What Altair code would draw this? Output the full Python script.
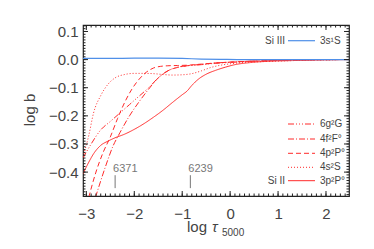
import altair as alt
import pandas as pd
import numpy as np

# ---- data ----
# Si III 3s1S (blue)
si3_x = [-3.07, -2.5, -2.0, -1.5, -1.0, -0.6, -0.2, 0.2, 1.0, 2.5]
si3_y = [0.004, 0.004, 0.005, 0.005, 0.004, 0.002, 0.001, 0.0, 0.0, 0.0]

# Si II levels (red)
p3_x = [-3.07, -2.95, -2.85, -2.7, -2.55, -2.4, -2.2, -2.0, -1.8, -1.6, -1.4, -1.2, -1.0, -0.9,
        -0.8, -0.65, -0.5, -0.3, -0.1, 0.1, 0.4, 0.8, 1.2, 1.6, 2.0, 2.5]
p3_y = [-0.406, -0.365, -0.335, -0.305, -0.29, -0.278, -0.265, -0.248, -0.228, -0.205, -0.18,
        -0.152, -0.125, -0.112, -0.092, -0.068, -0.052, -0.038, -0.027, -0.018, -0.011, -0.006,
        -0.004, -0.002, -0.001, 0.0]

s4_x = [-3.07, -2.95, -2.85, -2.7, -2.55, -2.4, -2.2, -2.0, -1.8, -1.6, -1.4, -1.2, -1.0, -0.8,
        -0.6, -0.4, -0.2, 0.0, 0.3, 0.7, 1.2, 1.7, 2.2]
s4_y = [-0.345, -0.27, -0.19, -0.128, -0.088, -0.065, -0.053, -0.049, -0.049, -0.05, -0.053,
        -0.055, -0.054, -0.05, -0.04, -0.028, -0.02, -0.015, -0.01, -0.007, -0.004, -0.002, -0.001]

p4_x = [-2.95, -2.8, -2.65, -2.5, -2.35, -2.2, -2.05, -1.9, -1.75, -1.6, -1.45, -1.3, -1.1, -0.9,
        -0.6, -0.3, 0.0, 0.4, 0.8, 1.3, 1.8, 2.3]
p4_y = [-0.49, -0.40, -0.33, -0.275, -0.21, -0.152, -0.105, -0.07, -0.045, -0.03, -0.024, -0.022,
        -0.021, -0.02, -0.016, -0.012, -0.009, -0.006, -0.004, -0.002, -0.001, 0.0]

f4_x = [-2.81, -2.6, -2.45, -2.3, -2.1, -1.9, -1.7, -1.5, -1.3, -1.1, -0.9, -0.6, -0.3, 0.0, 0.4,
        0.8, 1.3, 1.8]
f4_y = [-0.49, -0.38, -0.31, -0.26, -0.2, -0.15, -0.105, -0.065, -0.04, -0.028, -0.022, -0.017,
        -0.012, -0.009, -0.006, -0.004, -0.002, -0.001]

g6_x = [-3.07, -2.9, -2.7, -2.5, -2.3, -2.1, -1.9, -1.7, -1.5, -1.3, -1.1, -0.9, -0.6, -0.3, 0.0,
        0.4, 0.8, 1.3, 1.8]
g6_y = [-0.35, -0.3, -0.25, -0.22, -0.19, -0.16, -0.13, -0.1, -0.065, -0.04, -0.027, -0.022,
        -0.018, -0.013, -0.01, -0.006, -0.004, -0.002, -0.001]

levels = ["6g²G", "4f²F°", "4p²P°", "4s²S", "3p²P°"]
level_x = [g6_x, f4_x, p4_x, s4_x, p3_x]
level_y = [g6_y, f4_y, p4_y, s4_y, p3_y]
level_dash = [[6, 2, 1, 2, 1, 2, 1, 2], [6, 2, 1, 2], [5, 3], [1, 2], [1, 0]]

lines_lambda = ["6371", "6239"]
lines_x = [-2.40, -0.83]

x_ticks_major = [-3, -2, -1, 0, 1, 2]
y_ticks_major = [-0.4, -0.3, -0.2, -0.1, 0.0, 0.1]

# ---- layout ----
W, H = 266, 171
RED = "#ff2a2a"
BLUE = "#4f8fe8"
GRAY = "#444444"
FONT = "Liberation Sans"

xscale = alt.Scale(domain=[-3.07, 2.48], nice=False, zero=False)
yscale = alt.Scale(domain=[-0.485, 0.123], nice=False, zero=False)
xaxis = alt.Axis(values=x_ticks_major, format="d", title=None, labelPadding=10)
yaxis = alt.Axis(values=y_ticks_major, format=".1f", title=None, labelPadding=5)

X = lambda: alt.X("x:Q", scale=xscale, axis=xaxis)
Y = lambda: alt.Y("y:Q", scale=yscale, axis=yaxis)

one = pd.DataFrame({"a": [0]})
layers = []

# curves
for name, xs, ys, dash in zip(levels, level_x, level_y, level_dash):
    df = pd.DataFrame({"x": xs, "y": ys})
    layers.append(alt.Chart(df).mark_line(color=RED, strokeWidth=1, strokeDash=dash, clip=True,
                                          interpolate="monotone").encode(x=X(), y=Y()))
layers.append(alt.Chart(pd.DataFrame({"x": si3_x, "y": si3_y})).mark_line(
    color=BLUE, strokeWidth=1.2, clip=True, interpolate="monotone").encode(x=X(), y=Y()))

# minor/major ticks (inward, mirrored)
xmin = pd.DataFrame({"x": np.round(np.arange(-3.0, 2.45, 0.1), 2)})
xmaj = pd.DataFrame({"x": x_ticks_major})
ymin = pd.DataFrame({"y": np.round(np.arange(-0.48, 0.125, 0.01), 3)})
ymaj = pd.DataFrame({"y": y_ticks_major})
tc = "#222222"
for df, L in [(xmin, 2.5), (xmaj, 5)]:
    layers.append(alt.Chart(df).mark_rule(color=tc, strokeWidth=1).encode(
        x=X(), y=alt.value(H), y2=alt.value(H - L)))
    layers.append(alt.Chart(df).mark_rule(color=tc, strokeWidth=1).encode(
        x=X(), y=alt.value(0), y2=alt.value(L)))
for df, L in [(ymin, 2.5), (ymaj, 5)]:
    layers.append(alt.Chart(df).mark_rule(color=tc, strokeWidth=1).encode(
        y=Y(), x=alt.value(0), x2=alt.value(L)))
    layers.append(alt.Chart(df).mark_rule(color=tc, strokeWidth=1).encode(
        y=Y(), x=alt.value(W), x2=alt.value(W - L)))

# wavelength markers
wl = pd.DataFrame({"x": lines_x, "lab": lines_lambda, "y": [-0.411] * 2, "y2": [-0.457] * 2,
                   "ty": [-0.39] * 2})
layers.append(alt.Chart(wl).mark_rule(color="#777777", strokeWidth=1).encode(
    x=X(), y=Y(), y2="y2:Q"))
layers.append(alt.Chart(wl).mark_text(align="left", baseline="middle", dx=-2, fontSize=11,
                                      font=FONT, color="#777777").encode(
    x=X(), y=alt.Y("ty:Q", scale=yscale, axis=yaxis), text="lab:N"))

# in-plot legend
LX1, LX2, LT = 205, 232, 237
layers.append(alt.Chart(one).mark_rule(color=BLUE, strokeWidth=1.2).encode(
    x=alt.value(LX1), x2=alt.value(LX2), y=alt.value(15.7)))
layers.append(alt.Chart(one).mark_text(text="3s¹S", align="left", baseline="middle", fontSize=10,
                                       font=FONT, color=GRAY).encode(x=alt.value(LT), y=alt.value(15.7)))
layers.append(alt.Chart(one).mark_text(text="Si  III", align="right", baseline="middle", fontSize=10,
                                       font=FONT, color=GRAY).encode(x=alt.value(LX1 - 3), y=alt.value(15.7)))
leg_y = [99, 114, 128.3, 142.3, 155.7]
for name, dash, yy in zip(levels, level_dash, leg_y):
    layers.append(alt.Chart(one).mark_rule(color=RED, strokeWidth=1, strokeDash=dash).encode(
        x=alt.value(LX1), x2=alt.value(LX2), y=alt.value(yy)))
    layers.append(alt.Chart(one).mark_text(text=name, align="left", baseline="middle", fontSize=10,
                                           font=FONT, color=GRAY).encode(x=alt.value(LT), y=alt.value(yy)))
layers.append(alt.Chart(one).mark_text(text="Si  II", align="right", baseline="middle", fontSize=10,
                                       font=FONT, color=GRAY).encode(x=alt.value(LX1 - 3), y=alt.value(155.7)))

# axis titles
layers.append(alt.Chart(one).mark_text(text="log b", angle=270, align="center", baseline="middle",
                                       fontSize=15, font=FONT, color=GRAY).encode(
    x=alt.value(-53), y=alt.value(85)))
layers.append(alt.Chart(one).mark_text(text="log", align="left", baseline="alphabetic",
                                       fontSize=15, font=FONT, color=GRAY).encode(
    x=alt.value(104), y=alt.value(207)))
layers.append(alt.Chart(one).mark_text(text="τ", align="left", baseline="alphabetic",
                                       fontSize=15, font=FONT, color=GRAY, fontStyle="italic").encode(
    x=alt.value(129), y=alt.value(207)))
layers.append(alt.Chart(one).mark_text(text="5000", align="left", baseline="alphabetic",
                                       fontSize=10, font=FONT, color=GRAY).encode(
    x=alt.value(139), y=alt.value(211)))

chart = alt.layer(*layers).properties(
    width=W, height=H,
    autosize=alt.AutoSizeParams(type="none"),
    padding={"left": 75, "top": 17, "right": 17, "bottom": 45},
).configure_view(stroke="#222222", strokeWidth=1.2).configure_axis(
    grid=False, ticks=False, tickSize=0, domain=False, labelFont=FONT, labelFontSize=15,
    labelColor=GRAY)

chart.save("out.html", embed_options={"renderer": "svg", "actions": False})
